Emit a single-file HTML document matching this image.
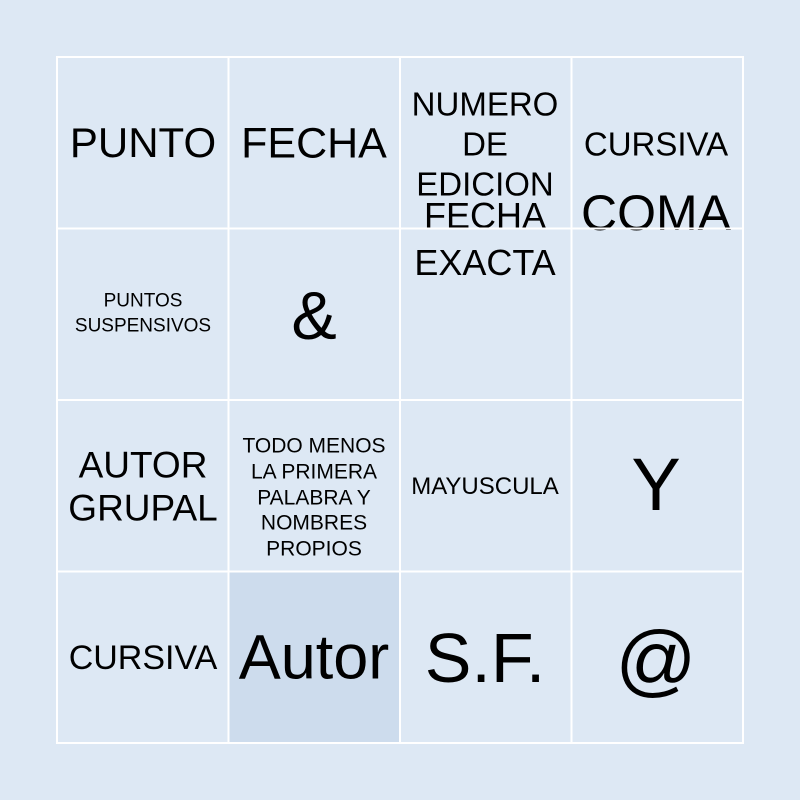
<!DOCTYPE html>
<html><head><style>
body{margin:0;width:800px;height:800px;background:#dde8f4;position:relative;overflow:hidden;font-family:"Liberation Sans",sans-serif;color:#000}
.t{position:absolute;transform:translate(-50%,-50%);white-space:nowrap;text-align:center;line-height:1}
</style></head><body>
<div style="position:absolute;left:229px;top:572px;width:171px;height:171px;background:#cddced"></div>
<div class="t" style="left:143px;top:143px;font-size:42px">PUNTO</div>
<div class="t" style="left:314px;top:144px;font-size:43px">FECHA</div>
<div class="t" style="left:485px;top:104px;font-size:33px">NUMERO</div>
<div class="t" style="left:485px;top:144px;font-size:33px">DE</div>
<div class="t" style="left:485px;top:184px;font-size:33px">EDICION</div>
<div class="t" style="left:485px;top:216px;font-size:36px">FECHA</div>
<div class="t" style="left:485px;top:263px;font-size:36px">EXACTA</div>
<div class="t" style="left:656px;top:144px;font-size:33px">CURSIVA</div>
<div class="t" style="left:656px;top:213px;font-size:50px">COMA</div>
<div class="t" style="left:143px;top:301px;font-size:19px">PUNTOS</div>
<div class="t" style="left:143px;top:326px;font-size:19px">SUSPENSIVOS</div>
<div class="t" style="left:314px;top:316px;font-size:68px">&amp;</div>
<div class="t" style="left:143px;top:465px;font-size:37px">AUTOR</div>
<div class="t" style="left:143px;top:508px;font-size:37px">GRUPAL</div>
<div class="t" style="left:314px;top:446px;font-size:21px">TODO MENOS</div>
<div class="t" style="left:314px;top:472px;font-size:21px">LA PRIMERA</div>
<div class="t" style="left:314px;top:498px;font-size:21px">PALABRA Y</div>
<div class="t" style="left:314px;top:523px;font-size:21px">NOMBRES</div>
<div class="t" style="left:314px;top:549px;font-size:21px">PROPIOS</div>
<div class="t" style="left:485px;top:487px;font-size:24px">MAYUSCULA</div>
<div class="t" style="left:656px;top:485px;font-size:74px">Y</div>
<div class="t" style="left:143px;top:658px;font-size:34px">CURSIVA</div>
<div class="t" style="left:314px;top:658px;font-size:63px">Autor</div>
<div class="t" style="left:485px;top:658px;font-size:70px">S.F.</div>
<div class="t" style="left:656px;top:660px;font-size:80px">@</div>
<svg width="800" height="800" style="position:absolute;left:0;top:0">
<g stroke="#fff" stroke-width="2" fill="none">
<rect x="57" y="57" width="686" height="686"/>
<line x1="228.5" y1="57" x2="228.5" y2="743"/>
<line x1="400" y1="57" x2="400" y2="743"/>
<line x1="571.5" y1="57" x2="571.5" y2="743"/>
<line x1="57" y1="228.5" x2="743" y2="228.5"/>
<line x1="57" y1="400" x2="743" y2="400"/>
<line x1="57" y1="571.5" x2="743" y2="571.5"/>
</g></svg>
</body></html>
